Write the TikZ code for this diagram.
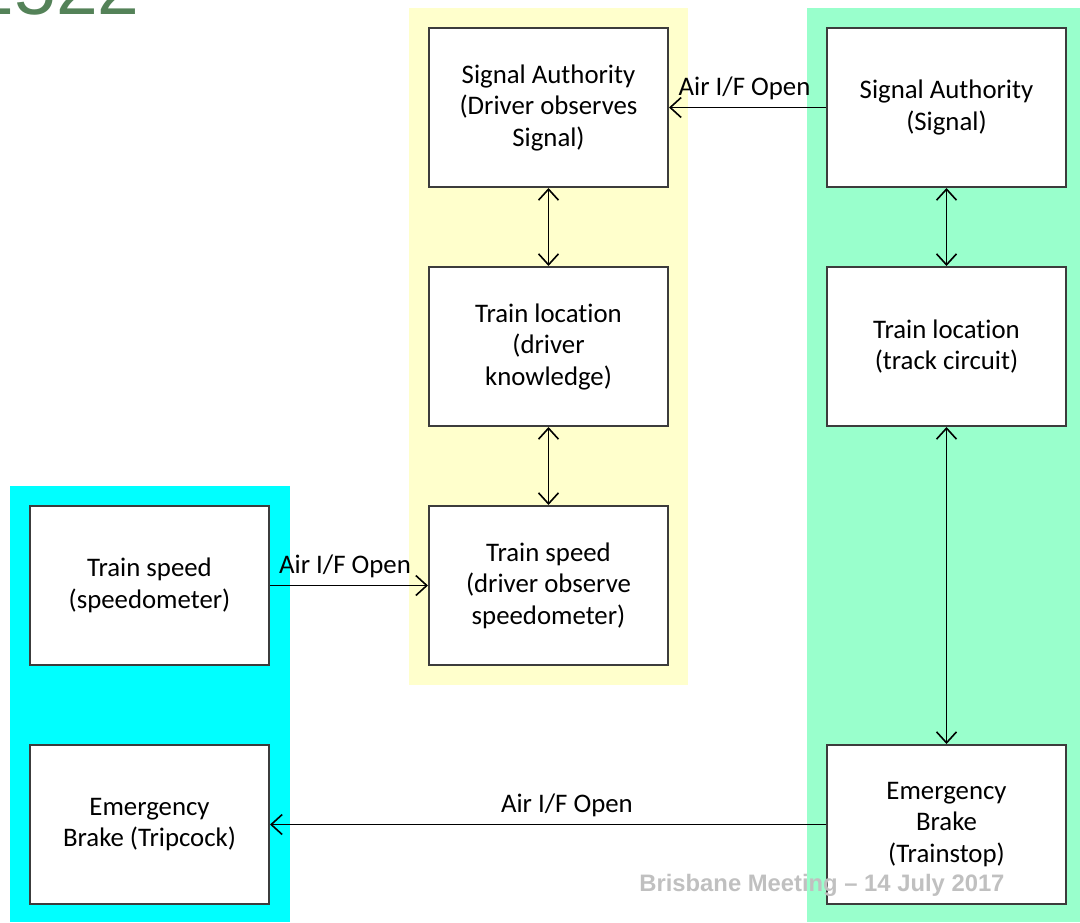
\documentclass[tikz,border=0pt]{standalone}
\usepackage{fontspec}
\setmainfont{Carlito}[Ligatures={NoCommon}]
\newfontfamily\footfont{Liberation Sans}
\usetikzlibrary{arrows.meta}
\definecolor{ylw}{RGB}{255,255,204}
\definecolor{cyn}{RGB}{0,255,255}
\definecolor{grn}{RGB}{153,255,204}
\definecolor{boxgray}{RGB}{60,60,60}
\definecolor{footgray}{RGB}{192,192,192}
\definecolor{numgreen}{RGB}{84,130,88}
\begin{document}
\begin{tikzpicture}[x=0.5pt,y=-0.5pt,
  box/.style={draw=boxgray, line width=1pt, fill=white, minimum width=119.5pt, minimum height=79.5pt, align=center, font=\fontsize{13.4}{15.75}\selectfont, inner sep=0pt},
  link/.style={line width=0.8pt, -{Straight Barb[length=5.5pt,width=10pt]}},
  both/.style={line width=0.8pt, {Straight Barb[length=5.5pt,width=10pt]}-{Straight Barb[length=5.5pt,width=10pt]}},
  lbl/.style={font=\fontsize{13.4}{15.75}\selectfont, inner sep=3.5pt}]
\useasboundingbox (0,0) rectangle (1080,922);
\fill[ylw] (409,8) rectangle (688,685);
\fill[cyn] (10,486) rectangle (290,922);
\fill[grn] (807,8) rectangle (1080,922);
\node[anchor=base east, text=numgreen, font=\footfont\fontsize{37.5}{40}\selectfont, inner sep=0pt] (num) at (140,14) {1522};
\node[box] (sad) at (548.5,107.5) {Signal Authority\\(Driver observes\\Signal)};
\node[box] (tld) at (548.5,346.5) {Train location\\(driver\\knowledge)};
\node[box] (tsd) at (548.5,585.5) {Train speed\\(driver observe\\speedometer)};
\node[box] (tss) at (149.5,585.5) {Train speed\\(speedometer)};
\node[box] (ebt) at (149.5,824.5) {Emergency\\Brake (Tripcock)};
\node[box] (sas) at (946.5,107.5) {Signal Authority\\(Signal)};
\node[box] (tlt) at (946.5,346.5) {Train location\\(track circuit)};
\node[box] (ebs) at (946.5,824.5) {Emergency\\Brake\\(Trainstop)};
\draw[link] (sas.west) -- node[lbl, above, xshift=-1.5pt] {Air I/F Open} (sad.east);
\draw[link] (tss.east) -- node[lbl, above, xshift=-2pt] {Air I/F Open} (tsd.west);
\draw[link] (ebs.west) -- node[lbl, above, pos=0.466] {Air I/F Open} (ebt.east);
\draw[both] (sad.south) -- (tld.north);
\draw[both] (tld.south) -- (tsd.north);
\draw[both] (sas.south) -- (tlt.north);
\draw[both] (tlt.south) -- (ebs.north);
\node[anchor=base west, text=footgray, font=\footfont\bfseries\fontsize{11.9}{14}\selectfont, inner sep=0pt] (foot) at (639,891) {Brisbane Meeting – 14 July 2017};
\end{tikzpicture}
\end{document}
